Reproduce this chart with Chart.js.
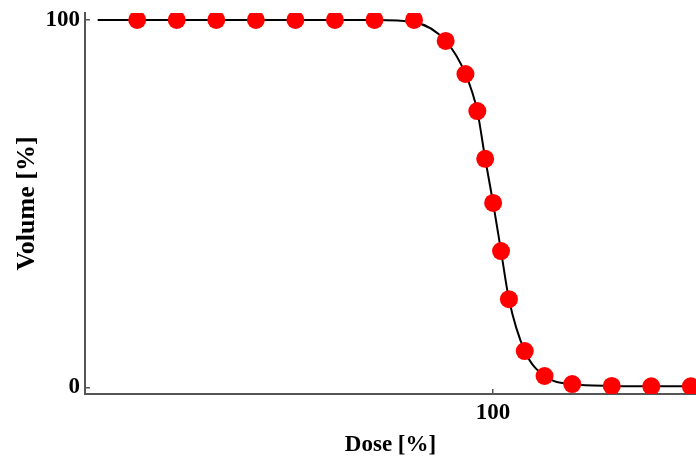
<!DOCTYPE html>
<html>
<head>
<meta charset="utf-8">
<script src="https://cdn.jsdelivr.net/npm/chart.js@4.4.0/dist/chart.umd.min.js"></script>
<style>
  html, body { margin: 0; padding: 0; background: #fff; overflow: hidden; }
  #wrap { width: 696px; height: 463px; }
</style>
</head>
<body>
<div id="wrap"><canvas id="dvhChart" width="696" height="463"></canvas></div>
<script>
//Measured points (dose in %, volume in %)
const doseValues = [10, 20, 30, 40, 50, 60, 70, 80, 88, 93, 96, 98, 100, 102, 104, 108, 113, 120, 130, 140, 150];
const volumeValues = [100, 100, 100, 100, 100, 100, 100, 100, 94.3, 85.3, 75.2, 62.2, 50.2, 37.1, 24.0, 9.9, 3.1, 0.9, 0.4, 0.3, 0.3];

//Fitted curve, starts at zero dose
const curveDose = [0, 5, 10, 20, 30, 40, 50, 60, 70, 80, 88, 93, 96, 98, 100, 102, 104, 108, 113, 120, 130, 140, 150, 152];
const curveVolume = [100, 100, 100, 100, 100, 100, 100, 100, 100, 99.4, 94.3, 85.3, 75.2, 62.2, 50.2, 37.1, 24.0, 9.9, 3.1, 0.9, 0.4, 0.3, 0.3, 0.3];

//Tick labels
const xTicks = [100];
const yTicks = [0, 100];

const serif = "'Liberation Serif', 'Times New Roman', serif";
const axisColor = '#555555';

const toXY = (xs, ys) => xs.map((x, i) => ({ x: x, y: ys[i] }));

//No extra room for label overhang, keep the plot box fixed
const noPadding = s => {
    s.paddingTop = 0;
    s.paddingBottom = 0;
    s.paddingLeft = 0;
    s.paddingRight = 0;
};

const config = {
    type: 'scatter',
    data: {
        datasets: [
            {
                label: 'Points',
                data: toXY(doseValues, volumeValues),
                pointRadius: 9,
                pointHoverRadius: 9,
                pointBackgroundColor: '#ff0000',
                pointBorderWidth: 0,
                showLine: false,
                order: 0
            },
            {
                label: 'Curve',
                data: toXY(curveDose, curveVolume),
                showLine: true,
                borderColor: '#000000',
                borderWidth: 2,
                pointRadius: 0,
                cubicInterpolationMode: 'monotone',
                order: 1
            }
        ]
    },
    options: {
        responsive: false,
        animation: false,
        layout: { autoPadding: false, padding: { top: 13, right: 0, left: 0, bottom: 0 } },
        plugins: {
            legend: { display: false },
            tooltip: { enabled: false }
        },
        scales: {
            x: {
                type: 'linear',
                min: -3.2,
                max: 151.3,
                afterBuildTicks: s => { s.ticks = xTicks.map(v => ({ value: v })); },
                afterFit: s => { s.height = 69; noPadding(s); },
                border: { display: true, color: axisColor, width: 2 },
                grid: { drawOnChartArea: false, drawTicks: true, tickLength: -5, color: axisColor, lineWidth: 1.5 },
                ticks: {
                    color: '#000',
                    font: { family: serif, size: 23, weight: 'bold' },
                    padding: 10,
                    maxRotation: 0
                },
                title: {
                    display: true,
                    text: 'Dose [%]',
                    color: '#000',
                    font: { family: serif, size: 23, weight: 'bold' },
                    padding: { top: 0, bottom: 4 }
                }
            },
            y: {
                type: 'linear',
                min: -1.8,
                max: 101.9,
                afterBuildTicks: s => { s.ticks = yTicks.map(v => ({ value: v })); },
                afterFit: s => { s.width = 85; noPadding(s); },
                border: { display: true, color: axisColor, width: 2 },
                grid: { drawOnChartArea: false, drawTicks: true, tickLength: -5, color: axisColor, lineWidth: 1.5 },
                ticks: {
                    color: '#000',
                    font: { family: serif, size: 23, weight: 'bold' },
                    padding: 10
                },
                title: {
                    display: true,
                    text: 'Volume [%]',
                    color: '#000',
                    font: { family: serif, size: 26, weight: 'bold' },
                    padding: { top: 12, bottom: 0 }
                }
            }
        }
    }
};

const ctx = document.getElementById('dvhChart').getContext('2d');
new Chart(ctx, config);
</script>
</body>
</html>
